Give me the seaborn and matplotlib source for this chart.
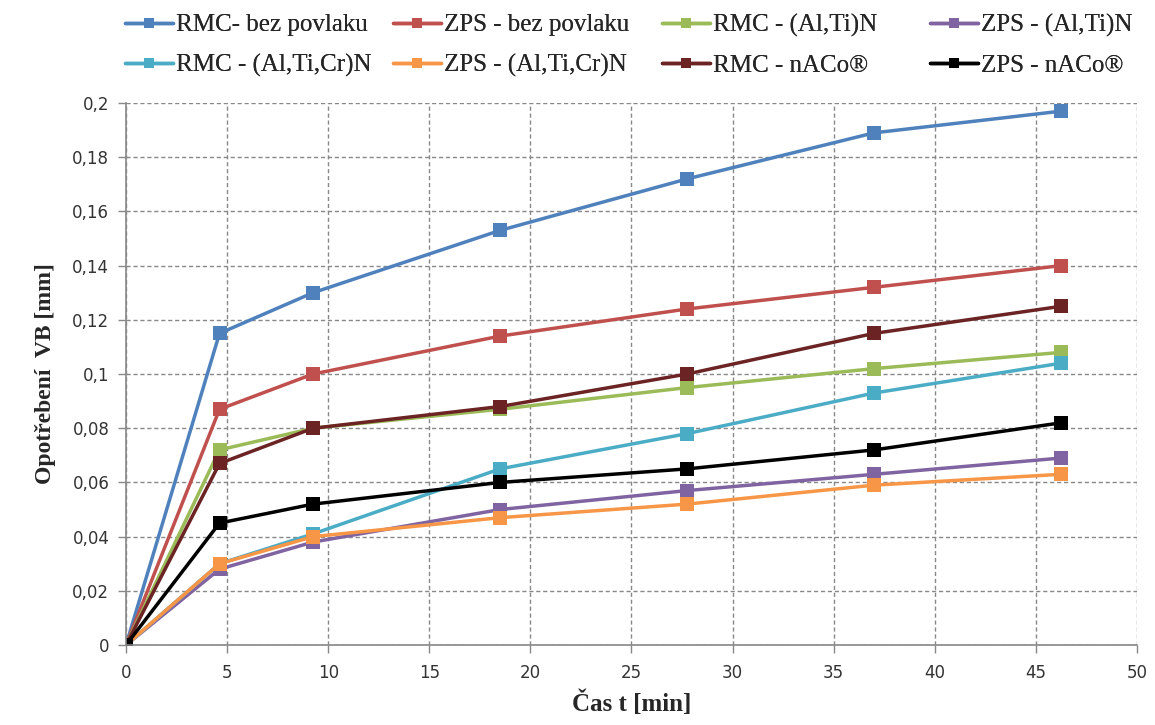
import pandas as pd
import matplotlib.pyplot as plt
import seaborn as sns

# Data
cas = [0, 4.625, 9.25, 18.5, 27.75, 37, 46.25]

rmc_bez = [0, 0.115, 0.130, 0.153, 0.172, 0.189, 0.197]
zps_bez = [0, 0.087, 0.100, 0.114, 0.124, 0.132, 0.140]
rmc_alti = [0, 0.072, 0.080, 0.087, 0.095, 0.102, 0.108]
zps_alti = [0, 0.028, 0.038, 0.050, 0.057, 0.063, 0.069]
rmc_alticr = [0, 0.030, 0.041, 0.065, 0.078, 0.093, 0.104]
zps_alticr = [0, 0.030, 0.040, 0.047, 0.052, 0.059, 0.063]
rmc_naco = [0, 0.067, 0.080, 0.088, 0.100, 0.115, 0.125]
zps_naco = [0, 0.045, 0.052, 0.060, 0.065, 0.072, 0.082]

labels = ["RMC- bez povlaku", "ZPS - bez povlaku", "RMC - (Al,Ti)N", "ZPS - (Al,Ti)N",
          "RMC - (Al,Ti,Cr)N", "ZPS - (Al,Ti,Cr)N", "RMC - nACo®", "ZPS - nACo®"]
series = [rmc_bez, zps_bez, rmc_alti, zps_alti, rmc_alticr, zps_alticr, rmc_naco, zps_naco]
colors = ["#4F81BD", "#C0504D", "#9BBB59", "#8064A2",
          "#4BACC6", "#F79646", "#6B2324", "#000000"]

rows = []
for lab, vals in zip(labels, series):
    for t, v in zip(cas, vals):
        rows.append({"cas": t, "vb": v, "serie": lab})
df = pd.DataFrame(rows)

sns.set_style("white")
plt.rcParams['font.family'] = ['DejaVu Sans']

fig = plt.figure(figsize=(11.55, 7.25), dpi=100)
ax = fig.add_axes([0.1091, 0.1103, 0.8753, 0.7476])

sns.lineplot(data=df, x="cas", y="vb", hue="serie", hue_order=labels,
             palette=dict(zip(labels, colors)), style="serie", style_order=labels,
             markers=["s"] * 8, dashes=False, markersize=10, linewidth=2.5,
             markeredgewidth=0, ax=ax, legend=True)

ax.set_xlim(0, 50)
ax.set_ylim(0, 0.2)
ax.set_xticks(range(0, 51, 5))
ax.set_yticks([i * 0.02 for i in range(11)])
ax.set_yticklabels(["0"] + [f"{i * 0.02:.2f}".replace(".", ",").rstrip("0") for i in range(1, 11)])
ax.tick_params(axis="both", labelsize=12, labelcolor="#333333", color="#888888",
               length=6, width=1, direction="out", left=True, bottom=True)
ax.tick_params(axis="x", pad=8)
ax.tick_params(axis="y", pad=6)
ax.grid(True, linestyle=(0, (3, 2)), color="#888888", linewidth=1)

for s in ["top", "right"]:
    ax.spines[s].set_visible(False)
for s in ["left", "bottom"]:
    ax.spines[s].set_color("#888888")
    ax.spines[s].set_linewidth(1.2)

ax.set_xlabel("Čas t [min]", fontsize=18, fontweight="bold", family="Liberation Serif", labelpad=6)
ax.set_ylabel("Opotřebení  VB [mm]", fontsize=17, fontweight="bold", family="Liberation Serif", labelpad=12)

# legend: four columns, two rows, read row by row
handles, labs = ax.get_legend_handles_labels()
ax.get_legend().remove()
col_x = [125, 393, 662, 930]
for c, x0 in enumerate(col_x):
    idx = [c, c + 4]
    leg = fig.legend([handles[i] for i in idx], [labs[i] for i in idx],
                     loc="upper left", bbox_to_anchor=(x0 / 1155, 1 - 14 / 725),
                     frameon=False, prop={"family": "Liberation Serif", "size": 18},
                     handlelength=1.9, handletextpad=0.15, labelspacing=0.7,
                     borderpad=0, borderaxespad=0, markerscale=0.75)
    fig.add_artist(leg)

plt.savefig("out.png", dpi=100)
plt.close()
